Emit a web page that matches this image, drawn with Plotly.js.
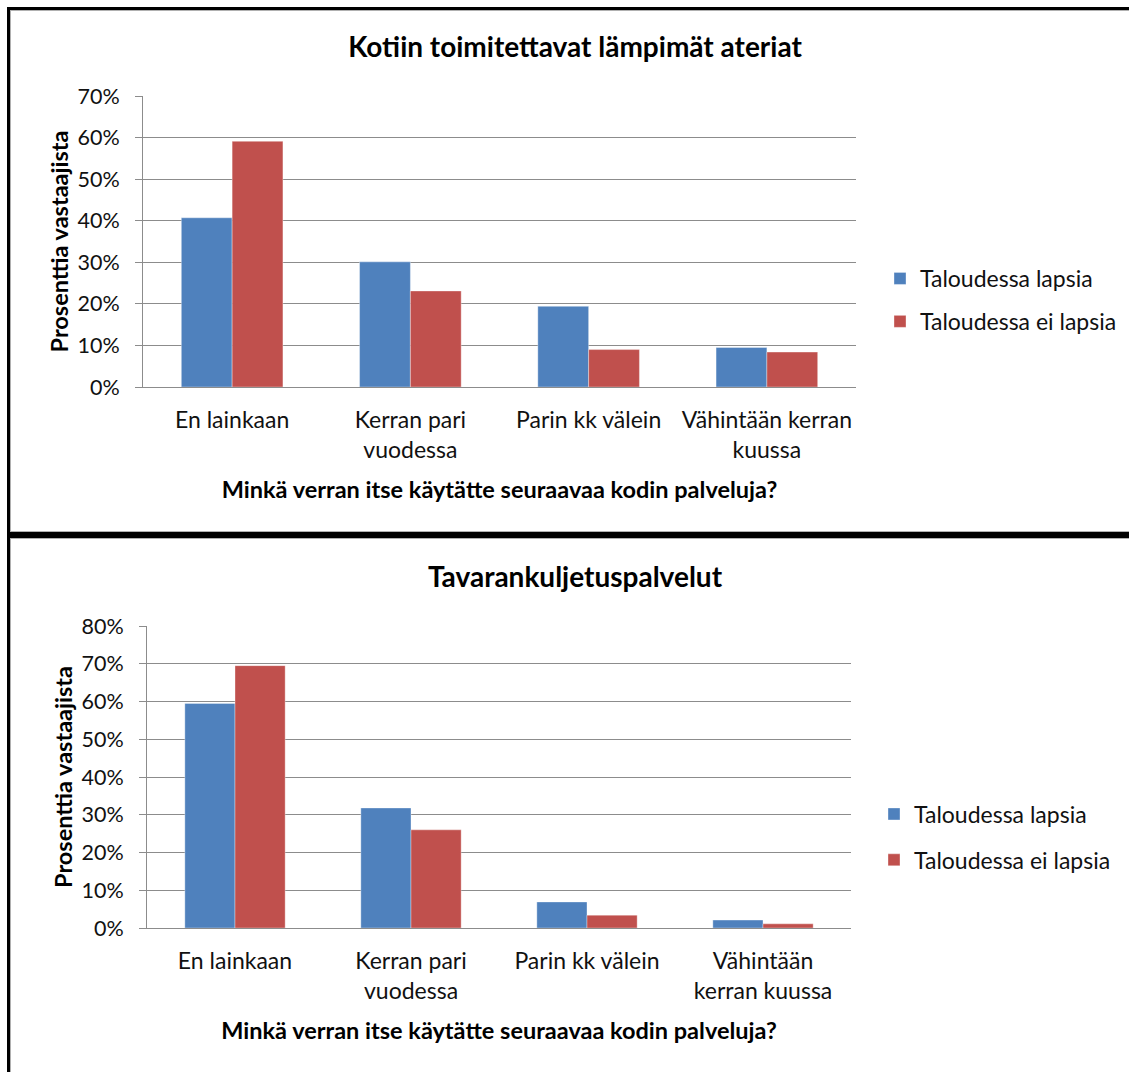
<!DOCTYPE html>
<html>
<head>
<meta charset="utf-8">
<script src="https://cdn.plot.ly/plotly-3.0.1.min.js"></script>
<style>
  html, body { margin: 0; padding: 0; background: #fff; }
  body { width: 1129px; height: 1072px; position: relative; overflow: hidden; }
  .frame { position: absolute; box-sizing: border-box; border: 0 solid #000; box-shadow: inset 1px 1px 0 0 #b0b0b0, inset 0 -1px 0 0 #b0b0b0; }
  #frameTop { left: 7px; top: 7px; width: 1200px; height: 528px; border-left-width: 3px; border-top-width: 3px; border-bottom-width: 3px; }
  #frameBottom { left: 7px; top: 535px; width: 1200px; height: 600px; border-left-width: 3px; border-top-width: 3px; box-shadow: inset 1px 1px 0 0 #b0b0b0; }
  .plot { position: absolute; left: 0; }
  #chartTop { top: 0; width: 1129px; height: 532px; }
  #chartBottom { top: 537px; width: 1129px; height: 535px; }
</style>
</head>
<body>
<div class="frame" id="frameTop"></div>
<div class="frame" id="frameBottom"></div>
<div class="plot" id="chartTop"></div>
<div class="plot" id="chartBottom"></div>
<script>
// Survey: how often respondents use home services, by household type (% of respondents)
const seriesNames = ['Taloudessa lapsia', 'Taloudessa ei lapsia'];

const mealsTitle = 'Kotiin toimitettavat lämpimät ateriat';
const mealsCategories = ['En lainkaan', 'Kerran pari<br>vuodessa', 'Parin kk välein', 'Vähintään kerran<br>kuussa'];
const mealsWithKids = [40.7, 30.1, 19.4, 9.5];
const mealsNoKids = [59.1, 23.1, 9.0, 8.4];
const mealsTicks = [0, 10, 20, 30, 40, 50, 60, 70];

const deliveryTitle = 'Tavarankuljetuspalvelut';
const deliveryCategories = ['En lainkaan', 'Kerran pari<br>vuodessa', 'Parin kk välein', 'Vähintään<br>kerran kuussa'];
const deliveryWithKids = [59.5, 31.8, 6.9, 2.1];
const deliveryNoKids = [69.5, 26.0, 3.4, 1.1];
const deliveryTicks = [0, 10, 20, 30, 40, 50, 60, 70, 80];

const xTitle = 'Minkä verran itse käytätte seuraavaa kodin palveluja?';
const yTitle = 'Prosenttia vastaajista';

const FONT = 'Lato, "Open Sans", sans-serif';
const BLUE = '#4F81BD';
const RED = '#C0504D';
const GRID = '#8c8c8c';
const TEXT = '#111';

function makeChart(el, opts) {
  const traces = [
    { type: 'bar', name: seriesNames[0], x: opts.categories, y: opts.withKids,
      marker: { color: BLUE, line: { color: 'rgba(255,255,255,0.35)', width: 1 } },
      legendgroup: 'a', hoverinfo: 'x+y+name' },
    { type: 'bar', name: seriesNames[1], x: opts.categories, y: opts.noKids,
      marker: { color: RED, line: { color: 'rgba(255,255,255,0.35)', width: 1 } },
      legendgroup: 'b', hoverinfo: 'x+y+name' }
  ];
  const layout = {
    width: 1129, height: opts.height,
    margin: opts.margin,
    paper_bgcolor: 'rgba(0,0,0,0)', plot_bgcolor: 'rgba(0,0,0,0)',
    font: { family: FONT, size: 23, color: TEXT },
    title: { text: '<b>' + opts.title + '</b>', font: { family: FONT, size: 28, color: '#000' },
             xref: 'container', yref: 'container', x: 575 / 1129, xanchor: 'center',
             y: 1 - opts.titleY / opts.height, yanchor: 'middle' },
    barmode: 'group', bargap: 0.43, bargroupgap: 0,
    showlegend: true,
    legend: { xref: 'container', yref: 'container', x: opts.legendX / 1129, xanchor: 'left',
              y: 1 - opts.legendY / opts.height, yanchor: 'middle',
              font: { family: FONT, size: 23, color: TEXT },
              traceorder: 'grouped', tracegroupgap: opts.legendGap,
              itemwidth: 30, bgcolor: 'rgba(0,0,0,0)' },
    xaxis: { type: 'category', showline: true, linecolor: GRID, linewidth: 1,
             ticks: '', showgrid: false, tickfont: { family: FONT, size: 23, color: TEXT },
             ticklabelstandoff: 12,
             title: { text: '<b>' + xTitle + '</b>', font: { family: FONT, size: 23.5, color: '#000' }, standoff: 20 } },
    yaxis: { range: [0, opts.ymax], tickvals: opts.ticks, ticktext: opts.ticks.map(v => v + '%'),
             showline: true, linecolor: GRID, linewidth: 1,
             ticks: 'outside', ticklen: 7, tickcolor: GRID, tickwidth: 1,
             showgrid: true, gridcolor: GRID, gridwidth: 1, zeroline: false,
             tickfont: { family: FONT, size: 21.5, color: TEXT }, ticklabelstandoff: 11,
             title: { text: '<b>' + yTitle + '</b>', font: { family: FONT, size: 23.5, color: '#000' }, standoff: 2 } }
  };
  Plotly.newPlot(el, traces, layout, { staticPlot: true, displayModeBar: false });
}

makeChart('chartTop', {
  title: mealsTitle, categories: mealsCategories, withKids: mealsWithKids, noKids: mealsNoKids,
  ticks: mealsTicks, ymax: 70, height: 532,
  margin: { l: 143, r: 273, t: 96, b: 145, pad: 0 },
  titleY: 47, legendX: 880, legendY: 300, legendGap: 10
});

makeChart('chartBottom', {
  title: deliveryTitle, categories: deliveryCategories, withKids: deliveryWithKids, noKids: deliveryNoKids,
  ticks: deliveryTicks, ymax: 80, height: 535,
  margin: { l: 147, r: 278, t: 89, b: 144, pad: 0 },
  titleY: 40, legendX: 874, legendY: 300, legendGap: 13
});
</script>
</body>
</html>
